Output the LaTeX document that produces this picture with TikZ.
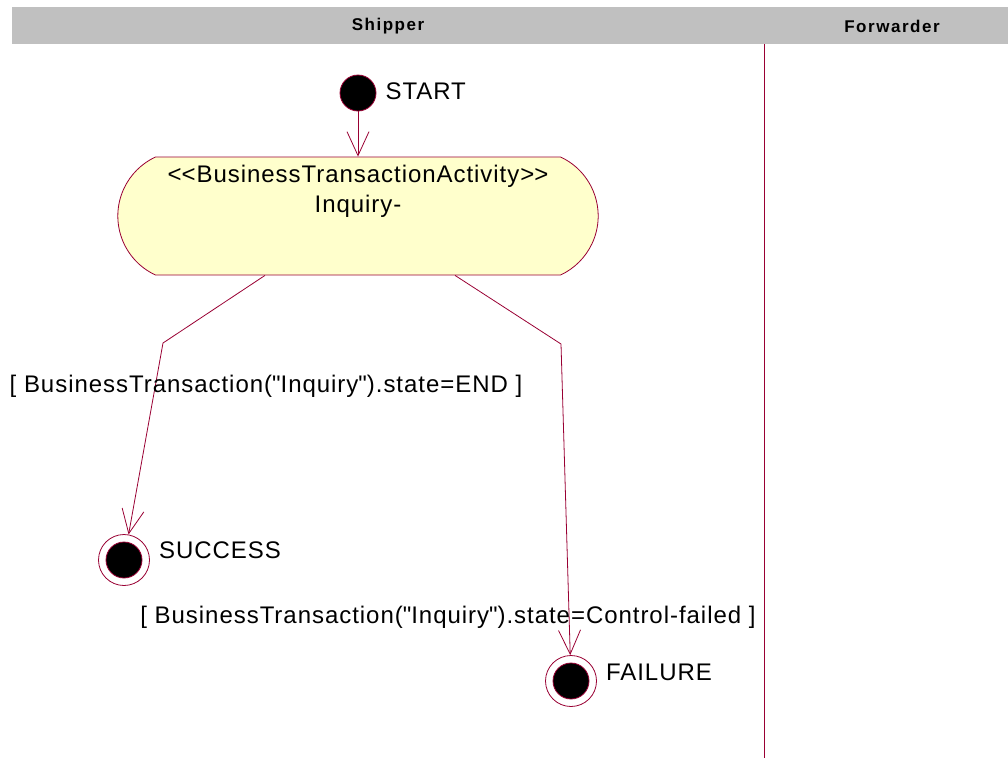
\documentclass[tikz,border=0pt]{standalone}
\usepackage{fontspec}
\setmainfont{Liberation Sans}
\usepackage{tikz}
\usetikzlibrary{arrows.meta, positioning, calc, shapes.misc}

\definecolor{umlred}{RGB}{153,0,51}
\definecolor{umlfill}{RGB}{255,255,204}
\definecolor{umlgray}{RGB}{192,192,192}

\begin{document}
\begin{tikzpicture}[
    x=1pt, y=-1pt,
    font=\fontsize{24}{30}\selectfont\addfontfeature{LetterSpace=4},
    lanehead/.style={fill=umlgray, inner sep=0pt},
    lanename/.style={font=\fontsize{17}{20}\selectfont\bfseries\addfontfeature{LetterSpace=9}},
    initial/.style={circle, draw=umlred, fill=black, minimum size=36pt, inner sep=0pt,
                    line width=0.8pt},
    final/.style={circle, draw=umlred, fill=white, minimum size=51pt, inner sep=0pt,
                  line width=0.8pt,
                  path picture={\fill[black, draw=umlred]
                      (path picture bounding box.center) circle (18pt);}},
    activity/.style={rounded rectangle, rounded rectangle arc length=130,
                     draw=umlred, fill=umlfill, line width=0.8pt,
                     minimum width=487pt, minimum height=118pt},
    statelbl/.style={inner sep=1pt},
    guard/.style={inner sep=1pt},
    trans/.style={-{Straight Barb[length=24pt, width=22pt]}, umlred, line width=0.8pt},
    lane/.style={umlred, line width=0.8pt},
]
\useasboundingbox (0,0) rectangle (1008,758);

% --- swimlane header and divider ----------------------------------------------
\node[lanehead, minimum width=996pt, minimum height=37pt] (head) at (510,25.5) {};
\node[lanename] (shipper) at (388,26) {Shipper};
\node[lanename] (forwarder) at (892,26) {Forwarder};
\coordinate (divtop) at (764,44);
\coordinate (divbot) at (764,758);
\draw[lane] (divtop) -- (divbot);

% --- start and the business transaction activity ------------------------------
\node[initial] (start) at (358,93) {};
\node[statelbl, right=8pt of start, yshift=2pt] (startlbl) {START};
\node[activity] (inq) at (358,216) {};
\node[align=center, below=5pt of inq.north] (inqtxt)
    {\textless\kern0pt\textless BusinessTransactionActivity\textgreater\kern0pt\textgreater\\Inquiry-};
\draw[trans] (start) -- (inq);

% --- final states -------------------------------------------------------------
\node[final] (success) at (124,560) {};
\node[statelbl, right=8pt of success, yshift=10pt] (successlbl) {SUCCESS};
\node[final] (failure) at (571,681) {};
\node[statelbl, right=8pt of failure, yshift=9pt] (failurelbl) {FAILURE};

% --- guarded transitions ------------------------------------------------------
\coordinate (k1) at (163,343);
\coordinate (k2) at (561,344);
\draw[trans] ($(inq.south)+(-93,0)$) -- (k1) -- (success);
\draw[trans] ($(inq.south)+(97,0)$) -- (k2) -- (failure);
\node[guard] (gend) at (266,386)
    {[ BusinessTransaction(\textquotedbl Inquiry\textquotedbl).state=END ]};
\node[guard] (gfail) at (448,617)
    {[ BusinessTransaction(\textquotedbl Inquiry\textquotedbl).state=Control-failed ]};

\end{tikzpicture}
\end{document}
